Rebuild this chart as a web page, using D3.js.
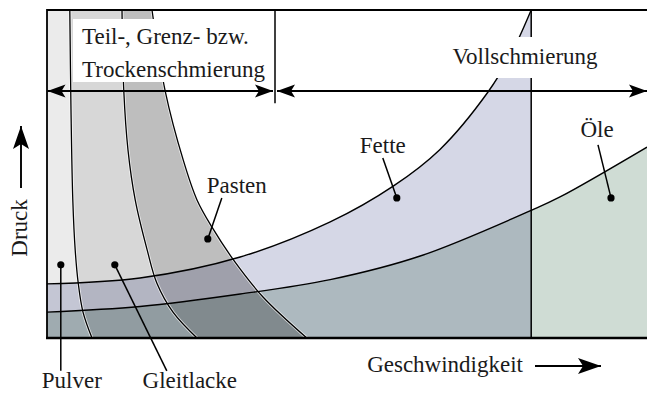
<!DOCTYPE html>
<html>
<head>
<meta charset="utf-8">
<script src="https://cdn.jsdelivr.net/npm/d3@7"></script>
<style>
  body { margin: 0; background: #fff; }
  svg { display: block; }
  svg text { font-family: "Liberation Serif", "Times New Roman", "DejaVu Serif", serif; }
</style>
</head>
<body>
<script>
// boundary curves, [speed, pressure] on a 0..100 scale
const pulverEdge     = [[3.8,100],[4.0,69.5],[4.3,42.1],[4.7,26.8],[5.2,16.8],[6.0,7.9],[7.5,0]]
const gleitlackeEdge = [[12.5,100],[12.8,75.3],[13.5,57.3],[14.7,42.1],[16.7,26.8],[18.3,16.8],[21.0,7.9],[25.0,0]]
const pastenEdge     = [[17.5,100],[19.7,75.3],[22.7,54.3],[25.0,42.1],[27.5,33.8],[31.2,23.5],[36.0,12.5],[43.3,0]]
const fetteEdge      = [[0,16.5],[15.5,18.3],[32.2,24.7],[47.2,35.4],[57.7,46.3],[65.5,57.5],[73.5,75.0],[77.2,86.0],[80.7,100]]
const oeleEdge       = [[0,7.9],[15.5,9.6],[32.2,13.4],[47.2,17.8],[62.2,25.0],[80.8,39.0],[85.5,43.0],[100,58.2]]

const teilBoundary = 38      // end of Teil-/Grenz-/Trockenschmierung
const vollBoundary = 80.7    // end of grease region

const labels = [
    {name: 'Pulver',     at: [2.3, 22.3]},
    {name: 'Gleitlacke', at: [11.3, 22.3]},
    {name: 'Pasten',     at: [26.8, 30.2]},
    {name: 'Fette',      at: [58.3, 42.7]},
    {name: 'Öle',        at: [94.0, 42.7]}
]
const regimeLabels = [['Teil-, Grenz- bzw.', 'Trockenschmierung'], ['Vollschmierung']]
const axisLabels = {x: 'Geschwindigkeit', y: 'Druck'}

const width = 647, height = 394

const x = d3.scaleLinear().domain([0, 100]).range([47, 647])
const y = d3.scaleLinear().domain([0, 100]).range([338, 10])

const smooth = d3.curveCatmullRom.alpha(0.5)

const svg = d3.select('body').append('svg')
    .attr('width', width)
    .attr('height', height)

svg.append('rect').attr('width', width).attr('height', height).attr('fill', '#fff')

//-------------------------------------------------------------
// solid lubricant bands (painted wide to narrow)
const band = d3.area()
    .y(d => y(d[1]))
    .x0(x(0))
    .x1(d => x(d[0]))
    .curve(smooth)

const fills = svg.append('g').style('isolation', 'isolate')

const bands = [
    {edge: pastenEdge, fill: '#bebebe'},
    {edge: gleitlackeEdge, fill: '#d7d7d7'},
    {edge: pulverEdge, fill: '#ebebeb'}
]
fills.selectAll('path.band')
    .data(bands)
    .enter()
    .append('path')
    .attr('class', 'band')
    .attr('d', d => band(d.edge))
    .attr('fill', d => d.fill)

// grease and oil regions, multiplied on top
const under = d3.area()
    .x(d => x(d[0]))
    .y0(y(0))
    .y1(d => y(d[1]))
    .curve(smooth)

fills.selectAll('path.region')
    .data([{edge: fetteEdge, fill: '#d5d7e6'}, {edge: oeleEdge, fill: '#cfdcd4'}])
    .enter()
    .append('path')
    .attr('class', 'region')
    .attr('d', d => under(d.edge))
    .attr('fill', d => d.fill)
    .style('mix-blend-mode', 'multiply')

//-------------------------------------------------------------
// outlines
const edgeLine = d3.line().x(d => x(d[0])).y(d => y(d[1])).curve(smooth)

const lines = svg.append('g').attr('fill', 'none')

lines.selectAll('path.halo')
    .data(bands)
    .enter()
    .append('path')
    .attr('d', d => edgeLine(d.edge))
    .attr('stroke', '#fff')
    .attr('stroke-width', 3)
    .attr('stroke-opacity', 0.7)

lines.selectAll('path.edge')
    .data(bands)
    .enter()
    .append('path')
    .attr('d', d => edgeLine(d.edge))
    .attr('stroke', '#000')
    .attr('stroke-width', 1.3)

lines.selectAll('path.curve')
    .data([fetteEdge, oeleEdge])
    .enter()
    .append('path')
    .attr('d', d => edgeLine(d))
    .attr('stroke', '#000')
    .attr('stroke-width', 1.4)

lines.append('line')
    .attr('x1', x(vollBoundary)).attr('x2', x(vollBoundary))
    .attr('y1', y(0)).attr('y2', y(100))
    .attr('stroke', '#000').attr('stroke-width', 1.5)

lines.append('line')
    .attr('x1', x(teilBoundary)).attr('x2', x(teilBoundary))
    .attr('y1', y(100)).attr('y2', y(71.6))
    .attr('stroke', '#000').attr('stroke-width', 1.5)

// frame
lines.append('path')
    .attr('d', `M${x(100)},${y(100)} H${x(0)} V${y(0)}`)
    .attr('stroke', '#000').attr('stroke-width', 1.8)
lines.append('line')
    .attr('x1', x(0) - 1).attr('x2', x(100))
    .attr('y1', y(0)).attr('y2', y(0))
    .attr('stroke', '#000').attr('stroke-width', 2.6)

//-------------------------------------------------------------
// arrows
function arrowHead(g, tx, ty, angle, len, wid) {
    const p = `M0,0 L${-len},${-wid / 2} L${-len * 0.78},0 L${-len},${wid / 2} Z`
    g.append('path')
        .attr('d', p)
        .attr('transform', `translate(${tx},${ty}) rotate(${angle})`)
        .attr('fill', '#000')
}

function arrow(g, x1, y1, x2, y2, both, len, wid) {
    const a = Math.atan2(y2 - y1, x2 - x1) * 180 / Math.PI
    g.append('line')
        .attr('x1', x1).attr('y1', y1).attr('x2', x2).attr('y2', y2)
        .attr('stroke', '#000').attr('stroke-width', 1.9)
    arrowHead(g, x2, y2, a, len, wid)
    if (both) arrowHead(g, x1, y1, a + 180, len, wid)
}

const arrowY = y(75.3)

// white label boxes
const boxes = svg.append('g')
boxes.append('rect').attr('x', 73).attr('y', 19).attr('width', 200).attr('height', 63).attr('fill', '#fff')
boxes.append('rect').attr('x', 448).attr('y', 37).attr('width', 156).attr('height', 41).attr('fill', '#fff')

arrow(svg, x(0) + 0.5, arrowY, x(teilBoundary) - 2, arrowY, true, 18, 13)
arrow(svg, x(teilBoundary) + 2, arrowY, x(100), arrowY, true, 18, 13)

// axis arrows
arrow(svg, 535, 366, 601, 366, false, 23, 16)
arrow(svg, 21, 188, 21, 126, false, 23, 16)

//-------------------------------------------------------------
// texts
const fontSize = 23

const teil = svg.append('text')
    .attr('font-size', fontSize)
    .attr('fill', '#1a1a1a')
teil.selectAll('tspan')
    .data(regimeLabels[0])
    .enter()
    .append('tspan')
    .attr('x', 82)
    .attr('y', (d, i) => 44 + i * 33)
    .text(d => d)

svg.append('text')
    .attr('x', 525).attr('y', 64)
    .attr('text-anchor', 'middle')
    .attr('font-size', fontSize)
    .attr('fill', '#1a1a1a')
    .text(regimeLabels[1][0])

svg.append('text')
    .attr('x', 523).attr('y', 372)
    .attr('text-anchor', 'end')
    .attr('font-size', fontSize)
    .attr('fill', '#1a1a1a')
    .text(axisLabels.x)

svg.append('text')
    .attr('transform', 'translate(27,228) rotate(-90)')
    .attr('text-anchor', 'middle')
    .attr('font-size', fontSize)
    .attr('fill', '#1a1a1a')
    .text(axisLabels.y)

// leader lines: end point and text position relative to the dot
const leader = {
    'Pulver':     {end: [0, 106],  text: [11, 123]},
    'Gleitlacke': {end: [52, 106], text: [75, 123]},
    'Pasten':     {end: [14, -41], text: [29, -46]},
    'Fette':      {end: [-14, -40], text: [-14, -45]},
    'Öle':        {end: [-13, -53], text: [-14, -61]}
}

const ann = svg.selectAll('g.label')
    .data(labels)
    .enter()
    .append('g')
    .attr('class', 'label')
    .attr('transform', d => `translate(${x(d.at[0])},${y(d.at[1])})`)

ann.append('line')
    .attr('x1', 0).attr('y1', 0)
    .attr('x2', d => leader[d.name].end[0])
    .attr('y2', d => leader[d.name].end[1])
    .attr('stroke', '#000')
    .attr('stroke-width', 1.5)

ann.append('circle')
    .attr('r', 3.6)
    .attr('fill', '#000')

ann.append('text')
    .attr('x', d => leader[d.name].text[0])
    .attr('y', d => leader[d.name].text[1])
    .attr('text-anchor', 'middle')
    .attr('font-size', fontSize)
    .attr('fill', '#1a1a1a')
    .text(d => d.name)
</script>
</body>
</html>
